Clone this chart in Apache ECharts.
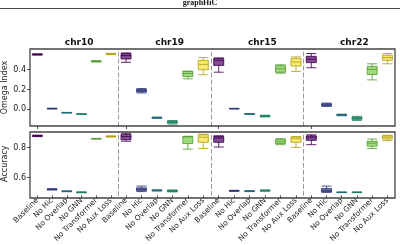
<!DOCTYPE html>
<html>
<head>
<meta charset="utf-8">
<script src="https://cdn.jsdelivr.net/npm/echarts@6/dist/echarts.min.js"></script>
<style>
  html, body { margin: 0; padding: 0; background: #fff; }
  #chart { width: 400px; height: 245px; }
</style>
</head>
<body>
<div id="chart"></div>
<script>
// ablation results, one box per method: [min, q1, median, q3, max]
const chroms = ['chr10', 'chr19', 'chr15', 'chr22']
const methods = ['Baseline', 'No Hic', 'No Overlap', 'No GNN', 'No Transformer', 'No Aux Loss']

const omegaChr10 = [
  [0.548, 0.552, 0.555, 0.558, 0.561],
  [0.003, 0.005, 0.006, 0.008, 0.010],
  [-0.038, -0.036, -0.035, -0.034, -0.032],
  [-0.053, -0.051, -0.050, -0.049, -0.047],
  [0.478, 0.482, 0.485, 0.488, 0.492],
  [0.553, 0.557, 0.560, 0.563, 0.566]
]
const omegaChr19 = [
  [0.475, 0.509, 0.543, 0.564, 0.570],
  [0.165, 0.175, 0.188, 0.200, 0.210],
  [-0.092, -0.089, -0.086, -0.083, -0.080],
  [-0.150, -0.140, -0.130, -0.122, -0.115],
  [0.308, 0.331, 0.362, 0.383, 0.385],
  [0.349, 0.400, 0.454, 0.495, 0.523]
]
const omegaChr15 = [
  [0.375, 0.444, 0.495, 0.513, 0.520],
  [0.003, 0.005, 0.006, 0.007, 0.009],
  [-0.051, -0.049, -0.048, -0.047, -0.045],
  [-0.078, -0.073, -0.069, -0.065, -0.061],
  [0.365, 0.375, 0.410, 0.441, 0.450],
  [0.383, 0.437, 0.478, 0.513, 0.530]
]
const omegaChr22 = [
  [0.420, 0.472, 0.506, 0.536, 0.564],
  [0.028, 0.035, 0.045, 0.055, 0.062],
  [-0.066, -0.062, -0.058, -0.054, -0.050],
  [-0.113, -0.102, -0.092, -0.082, -0.072],
  [0.297, 0.352, 0.403, 0.434, 0.460],
  [0.460, 0.495, 0.523, 0.547, 0.564]
]

const accChr10 = [
  [0.874, 0.877, 0.879, 0.881, 0.884],
  [0.516, 0.518, 0.520, 0.522, 0.524],
  [0.504, 0.506, 0.507, 0.508, 0.510],
  [0.497, 0.499, 0.500, 0.501, 0.503],
  [0.858, 0.859, 0.860, 0.861, 0.862],
  [0.871, 0.873, 0.875, 0.877, 0.879]
]
const accChr19 = [
  [0.843, 0.853, 0.875, 0.890, 0.897],
  [0.505, 0.510, 0.520, 0.530, 0.542],
  [0.509, 0.511, 0.513, 0.515, 0.517],
  [0.503, 0.506, 0.510, 0.513, 0.516],
  [0.790, 0.828, 0.872, 0.875, 0.876],
  [0.794, 0.836, 0.870, 0.886, 0.890]
]
const accChr15 = [
  [0.804, 0.836, 0.865, 0.875, 0.880],
  [0.507, 0.509, 0.510, 0.512, 0.514],
  [0.505, 0.507, 0.508, 0.509, 0.511],
  [0.508, 0.510, 0.512, 0.514, 0.516],
  [0.820, 0.828, 0.840, 0.854, 0.860],
  [0.802, 0.836, 0.860, 0.871, 0.875]
]
const accChr22 = [
  [0.820, 0.849, 0.870, 0.879, 0.886],
  [0.500, 0.503, 0.510, 0.525, 0.542],
  [0.498, 0.499, 0.500, 0.501, 0.502],
  [0.498, 0.499, 0.500, 0.501, 0.502],
  [0.794, 0.810, 0.830, 0.843, 0.858],
  [0.847, 0.858, 0.870, 0.879, 0.883]
]

const omegaTicks = [0.0, 0.2, 0.4]
const accTicks = [0.6, 0.8]

const omegaRows = [omegaChr10, omegaChr19, omegaChr15, omegaChr22]
const accRows = [accChr10, accChr19, accChr15, accChr22]

// viridis-ish, fill + edge
const fills = ['#6b2f7e', '#4a5590', '#3a8496', '#2e9a7d', '#8fd46a', '#f6e65a']
const edges = ['#440154', '#2f3a78', '#21687a', '#1b7f63', '#5a9e35', '#b5a21a']

const colEdges = [30, 118.3, 211, 303.7, 395]
const rows = [
  { top: 49, height: 77, min: -0.17, max: 0.61, ticks: omegaTicks, data: omegaRows, name: 'Omega Index', labels: false },
  { top: 132, height: 66, min: 0.48, max: 0.905, ticks: accTicks, data: accRows, name: 'Accuracy', labels: true }
]

const grid = []
const xAxis = []
const yAxis = []
const series = []
const title = []

rows.forEach((row, r) => {
  chroms.forEach((chrom, g) => {
    const idx = grid.length
    grid.push({
      left: colEdges[g], top: row.top,
      width: colEdges[g + 1] - colEdges[g], height: row.height
    })
    xAxis.push({
      type: 'category', gridIndex: idx, data: methods, position: 'bottom',
      axisLine: { show: false, onZero: false },
      axisTick: { show: true, alignWithLabel: true, length: 3, lineStyle: { color: '#555' } },
      axisLabel: row.labels ? {
        show: true, rotate: 45, fontSize: 7.5, margin: 4, color: '#222',
        fontFamily: 'DejaVu Sans', interval: 0
      } : { show: false }
    })
    yAxis.push({
      type: 'value', gridIndex: idx, min: row.min, max: row.max,
      splitLine: { show: false },
      axisLine: g === 0 ? { show: false } : { show: true, lineStyle: { color: '#999', type: [4, 3], width: 1 } },
      axisTick: g === 0 ? { show: true, length: 3, customValues: row.ticks, lineStyle: { color: '#555' } } : { show: false },
      axisLabel: g === 0 ? {
        show: true, fontSize: 8, color: '#222', fontFamily: 'DejaVu Sans', margin: 4,
        customValues: row.ticks, formatter: v => v.toFixed(1)
      } : { show: false },
      name: g === 0 ? row.name : '',
      nameLocation: 'middle', nameGap: 21, nameRotate: 90,
      nameTextStyle: { fontSize: 8, color: '#222', fontFamily: 'DejaVu Sans' }
    })
    series.push({
      type: 'boxplot', xAxisIndex: idx, yAxisIndex: idx,
      boxWidth: [10, 10],
      data: row.data[g].map((v, i) => ({
        value: v,
        itemStyle: { color: fills[i], borderColor: edges[i], borderWidth: 1, opacity: 0.85 }
      }))
    })
    if (r === 0) {
      title.push({
        text: chrom, left: (colEdges[g] + colEdges[g + 1]) / 2, top: 33,
        textAlign: 'center',
        textStyle: { fontSize: 9, fontWeight: 'bold', color: '#111', fontFamily: 'DejaVu Sans' }
      })
    }
  })
  // panel frame
  const f = grid.length
  grid.push({
    left: colEdges[0], top: row.top, width: colEdges[4] - colEdges[0], height: row.height,
    show: true, borderColor: '#444', borderWidth: 1.3, backgroundColor: 'transparent', z: 10
  })
  xAxis.push({ type: 'value', gridIndex: f, show: false })
  yAxis.push({ type: 'value', gridIndex: f, show: false })
})

const chart = echarts.init(document.getElementById('chart'))
chart.setOption({
  animation: false,
  title,
  grid,
  xAxis,
  yAxis,
  series,
  graphic: [
    {
      type: 'text', left: 'center', top: -1,
      style: { text: 'graphHiC', fontSize: 8, fontWeight: 'bold', fontFamily: 'Liberation Serif', fill: '#111' }
    },
    {
      type: 'line', shape: { x1: 0, y1: 8.5, x2: 400, y2: 8.5 },
      style: { stroke: '#444', lineWidth: 1 }
    }
  ]
})
</script>
</body>
</html>
